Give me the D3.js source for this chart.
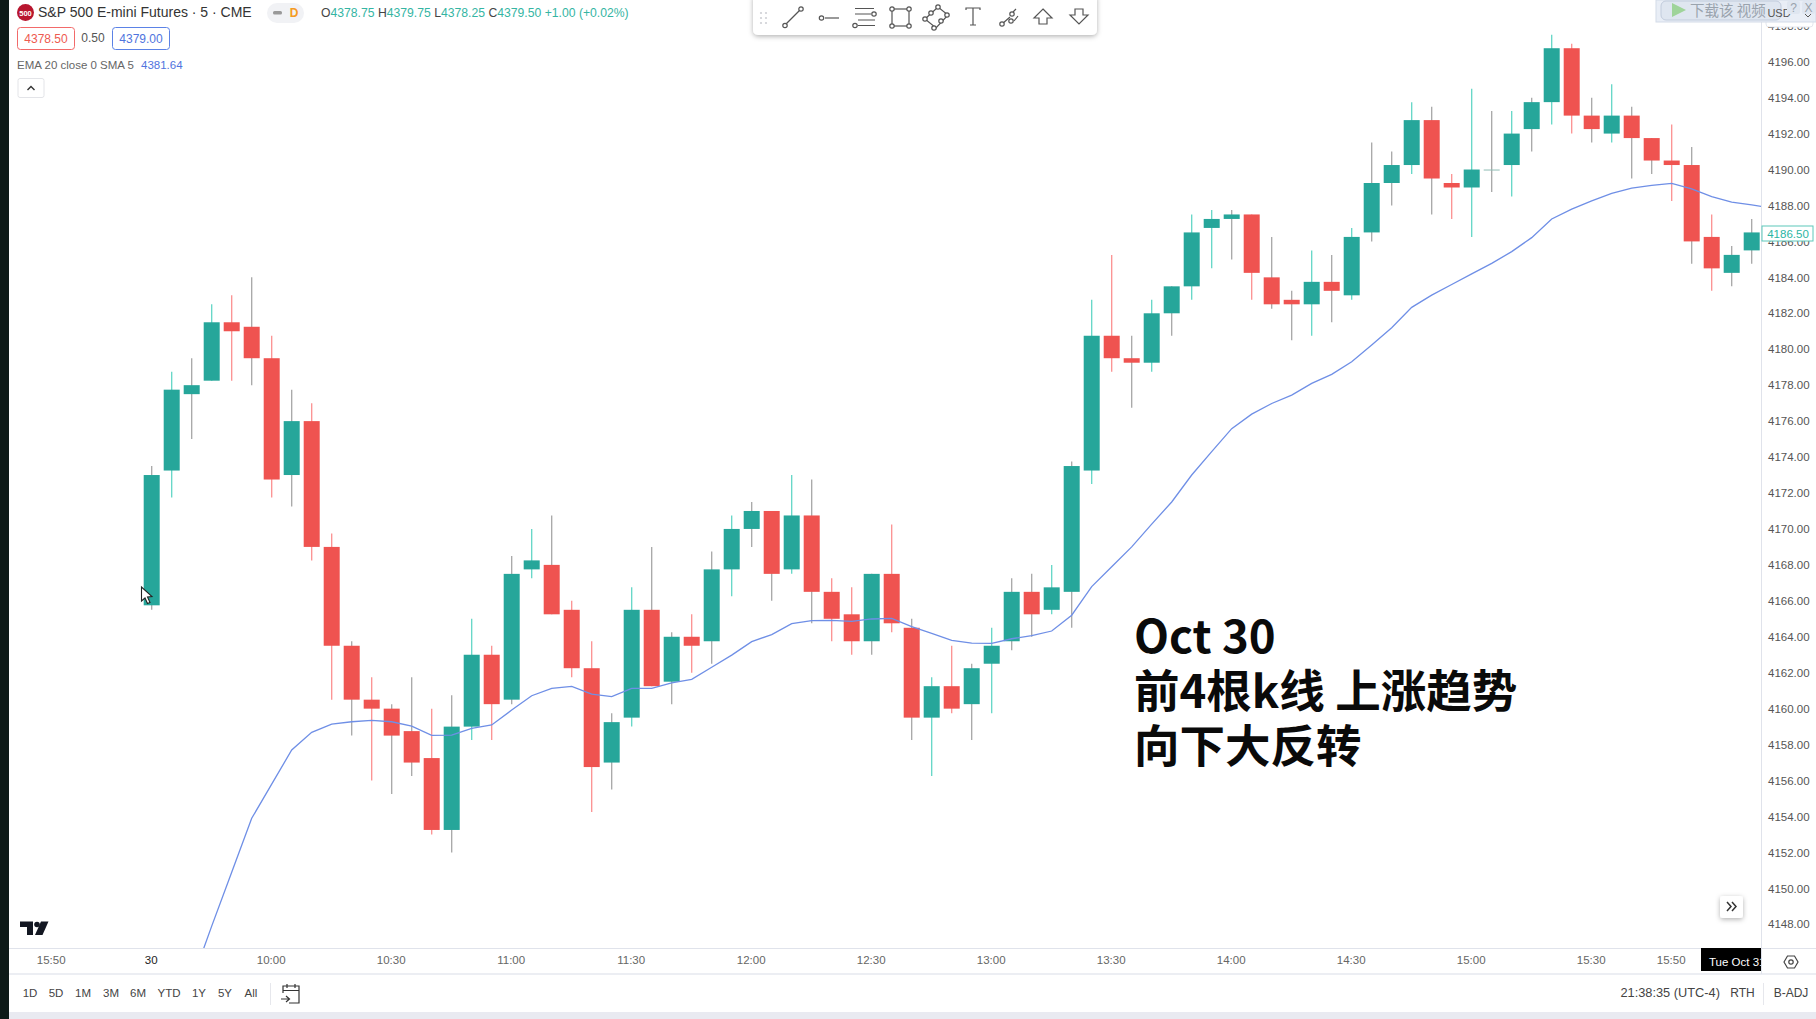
<!DOCTYPE html>
<html><head><meta charset="utf-8">
<script src="https://cdn.jsdelivr.net/npm/d3@7"></script>
<style>
html,body{margin:0;padding:0;background:#fff;overflow:hidden}
svg{display:block}
text{font-family:"Liberation Sans",Arial,sans-serif}
.axis path,.axis line{display:none}
</style></head><body><svg id="c" width="1816" height="1019"></svg>
<script>
const opens=[4165.75,4173.25,4177.5,4178.25,4181.5,4181.25,4179.5,4173,4176,4169,4163.5,4160.5,4160,4158.75,4157.25,4153.25,4159,4163,4160.5,4167.75,4168,4165.5,4162.25,4157,4159.5,4165.5,4161.5,4164,4163.75,4167.75,4170,4171,4167.75,4170.75,4166.5,4165.25,4163.75,4167.5,4164.5,4159.5,4161.25,4160.25,4162.5,4163.75,4166.5,4165.5,4166.5,4173.25,4180.75,4179.5,4179.25,4182,4183.5,4186.75,4187.25,4187.5,4184,4182.75,4182.5,4183.75,4183,4186.5,4189.25,4190.25,4192.75,4189.25,4189,4190,4190.25,4192.25,4193.75,4196.75,4193,4192,4193,4191.75,4190.5,4190.25,4186.25,4184.25,4185.5];
const highs=[4173.5,4178.75,4179.5,4182.5,4183,4184,4180.75,4177.75,4177,4169.75,4163.75,4161.75,4160.25,4161.75,4160,4160.75,4165,4163.5,4168.5,4170,4170.75,4166,4163.75,4159.75,4166.75,4169,4164.25,4165.25,4168.75,4170.75,4171.5,4171,4173,4172.75,4167.25,4166.75,4167.5,4170.25,4165,4161.75,4163.5,4162.5,4164.5,4167.25,4167.5,4168,4173.75,4182.75,4185.25,4180.75,4182.75,4183.5,4187.5,4187.75,4187.75,4187.5,4186.25,4183.25,4185.5,4185.25,4186.75,4191.5,4191,4193.75,4193.5,4189.75,4194.5,4193.25,4193.25,4194,4197.5,4197,4194,4194.75,4193.5,4191.75,4192.5,4191.25,4187.5,4185.75,4187.25];
const lows=[4165.5,4171.75,4175,4178.25,4178.25,4178,4171.75,4171.25,4168.25,4160.5,4158.5,4156,4155.25,4156.25,4153,4152,4158.25,4158.25,4160.25,4167.25,4165.25,4161.75,4154.25,4155.5,4159,4161.25,4160.25,4162,4162.5,4166.25,4169,4166,4167.5,4164.75,4163.75,4163,4163,4164.25,4158.25,4156.25,4159.75,4158.25,4159.75,4163.25,4164,4165.25,4164.5,4172.5,4178.75,4176.75,4178.75,4180.75,4182.75,4184.5,4185,4182.75,4182.25,4180.5,4180.75,4181.5,4182.75,4186,4188,4189.75,4187.5,4187.25,4186.25,4188.75,4188.5,4191,4192.5,4192,4191.5,4191.5,4189.5,4189.75,4188.25,4184.75,4183.25,4183.5,4184.75];
const closes=[4173,4177.75,4178,4181.5,4181,4179.5,4172.75,4176,4169,4163.5,4160.5,4160,4158.5,4157,4153.25,4159,4163,4160.25,4167.5,4168.25,4165.25,4162.25,4156.75,4159.25,4165.5,4161.25,4164,4163.5,4167.75,4170,4171,4167.5,4170.75,4166.5,4165,4163.75,4167.5,4164.75,4159.5,4161.25,4160,4162.25,4163.5,4166.5,4165.25,4166.75,4173.5,4180.75,4179.5,4179.25,4182,4183.5,4186.5,4187.25,4187.5,4184.25,4182.5,4182.5,4183.75,4183.25,4186.25,4189.25,4190.25,4192.75,4189.5,4189,4190,4190,4192,4193.75,4196.75,4193,4192.25,4193,4191.75,4190.5,4190.25,4186,4184.5,4185.25,4186.5];
// EMA 20 values starting at bar 2 (bar 81 is the bar just past the right edge)
const emaStart=2;
const emaValues=[4144.8,4147.9,4150.9,4153.9,4155.8,4157.7,4158.68,4159.14,4159.27,4159.35,4159.27,4159.03,4158.51,4158.53,4158.9,4159.09,4159.92,4160.72,4161.13,4161.24,4160.81,4160.67,4161.13,4161.13,4161.44,4161.63,4162.3,4162.98,4163.73,4164.12,4164.73,4164.9,4164.91,4164.86,4164.99,4165.02,4164.56,4164.19,4163.8,4163.65,4163.63,4163.89,4164.06,4164.32,4165.2,4166.79,4167.9,4169.0,4170.27,4171.5,4173.0,4174.3,4175.58,4176.39,4176.98,4177.45,4178.1,4178.6,4179.3,4180.23,4181.2,4182.33,4183.01,4183.6,4184.19,4184.78,4185.43,4186.21,4187.25,4187.8,4188.25,4188.67,4188.97,4189.12,4189.23,4188.92,4188.49,4188.19,4188.03,4187.85];
const priceTicks=[4148,4150,4152,4154,4156,4158,4160,4162,4164,4166,4168,4170,4172,4174,4176,4178,4180,4182,4184,4186,4188,4190,4192,4194,4196,4198];
const timeBars=[-5,0,6,12,18,24,30,36,42,48,54,60,66,72,76];
const timeLabels=["15:50","30","10:00","10:30","11:00","11:30","12:00","12:30","13:00","13:30","14:00","14:30","15:00","15:30","15:50"];
const rangeLabels=["1D","5D","1M","3M","6M","YTD","1Y","5Y","All"];
const noteLines=["Oct 30","前4根k线 上涨趋势","向下大反转"];
const lastPrice=4186.5;
// bars whose thin wick appears grey in the video capture
const greyWicks=[0,2,5,7,10,12,13,15,18,20,23,25,26,28,30,31,33,36,38,41,43,44,46,49,51,54,56,57,59,61,62,64,67,69,72,74,75,77,79,80];

const bars=opens.map((o,i)=>({i,o,h:highs[i],l:lows[i],c:closes[i]}));
const W=1816,H=1019,plotL=9,plotR=1761,plotB=948;
const x=d3.scaleLinear().domain([0,80]).range([151.7,1751.7]);
const y=d3.scaleLinear().domain([4148,4196]).range([924.3,61.7]);
const UP="#26a69a",DOWN="#ef5350",BW=16;
const svg=d3.select("#c");
const defs=svg.append("defs");
defs.append("clipPath").attr("id","plot").append("rect").attr("x",plotL).attr("y",0).attr("width",plotR-plotL).attr("height",plotB);
defs.append("clipPath").attr("id","dateclip").append("rect").attr("x",1701).attr("y",948).attr("width",60).attr("height",23);
const sh=defs.append("filter").attr("id","shadow").attr("x","-20%").attr("y","-40%").attr("width","140%").attr("height","200%");
sh.append("feDropShadow").attr("dx",0).attr("dy",1.5).attr("stdDeviation",2.5).attr("flood-color","#000").attr("flood-opacity",.3);

svg.append("rect").attr("width",W).attr("height",H).attr("fill","#fff");

// axes
const yAxis=d3.axisRight(y).tickValues(priceTicks).tickFormat(d3.format(".2f")).tickSize(0).tickPadding(0);
svg.append("g").attr("class","axis").attr("transform","translate(1768,0)").call(yAxis)
  .selectAll("text").attr("fill","#555").attr("font-size",11.5).attr("x",0);
const xAxis=d3.axisBottom(x).tickValues(timeBars).tickFormat((d,i)=>timeLabels[i]).tickSize(0).tickPadding(0);
svg.append("g").attr("class","axis").attr("transform","translate(-1,956)").call(xAxis)
  .selectAll("text").attr("fill",d=>d===0?"#222":"#666").attr("font-size",11.5);

// frame lines
const line=(x1,y1,x2,y2,c="#e0e3eb",w=1)=>svg.append("line").attr("x1",x1).attr("y1",y1).attr("x2",x2).attr("y2",y2).attr("stroke",c).attr("stroke-width",w);
line(plotL,948.5,W,948.5);
line(plotL,974,W,974,"#eceef3",2);
line(1761.5,0,1761.5,974);
svg.append("rect").attr("x",0).attr("y",1012).attr("width",W).attr("height",7).attr("fill","#e9eaf1");

// candles
const plot=svg.append("g").attr("clip-path","url(#plot)");
const wickColor=d=>greyWicks.includes(d.i)?"#a6a6a6":(d.c>=d.o?"#62d6c6":"#fb9090");
plot.selectAll("line.wick").data(bars).join("line").attr("class","wick")
  .attr("x1",d=>x(d.i)).attr("x2",d=>x(d.i)).attr("y1",d=>y(d.h)).attr("y2",d=>y(d.l))
  .attr("stroke",wickColor).attr("stroke-width",1.3);
plot.selectAll("rect.body").data(bars).join("rect").attr("class","body")
  .attr("x",d=>x(d.i)-BW/2).attr("width",BW)
  .attr("y",d=>y(Math.max(d.o,d.c)))
  .attr("height",d=>Math.max(1,Math.abs(y(d.o)-y(d.c))))
  .attr("fill",d=>d.o===d.c?"#8fbdb5":(d.c>d.o?UP:DOWN));

// EMA
const ema=d3.line().x((d,i)=>x(i+emaStart)).y(d=>y(d));
plot.append("path").datum(emaValues).attr("d",ema).attr("fill","none").attr("stroke","#6f8fe6").attr("stroke-width",1.3);

// cursor
svg.append("path").attr("d","M141.5 587 L141.5 601 L145 598 L147.5 603.5 L150 602.5 L147.5 597 L152 596.5 Z").attr("fill","#fff").attr("stroke","#222").attr("stroke-width",1.1);

// annotation
const note=svg.append("g").attr("font-weight",700).attr("fill","#0a0a0a").attr("font-size",45.5);
note.selectAll("text").data(noteLines).join("text").attr("x",1134).attr("y",(d,i)=>653+i*55)
  .style("font-family",'"Noto Sans CJK SC","Noto Sans",sans-serif').text(d=>d);

// header
svg.append("circle").attr("cx",25.5).attr("cy",12.5).attr("r",8.5).attr("fill","#b8162f");
svg.append("text").attr("x",25.5).attr("y",15.5).attr("text-anchor","middle").attr("fill","#fff").attr("font-size",7.5).attr("font-weight",700).text("500");
svg.append("text").attr("x",38).attr("y",17).attr("fill","#333").attr("font-size",14).text("S&P 500 E-mini Futures · 5 · CME");
svg.append("rect").attr("x",267).attr("y",3).attr("width",37).attr("height",20).attr("rx",10).attr("fill","#f1f2f5");
svg.append("rect").attr("x",273).attr("y",11).attr("width",9).attr("height",3.5).attr("rx",1.5).attr("fill","#999");
svg.append("text").attr("x",294).attr("y",17).attr("text-anchor","middle").attr("fill","#f59a23").attr("font-size",12).attr("font-weight",600).text("D");
const ohlc=svg.append("text").attr("x",321).attr("y",17).attr("font-size",12.2);
[["O","#444"],["4378.75","#35b5a3"],[" H","#444"],["4379.75","#35b5a3"],[" L","#444"],["4378.25","#35b5a3"],[" C","#444"],["4379.50","#35b5a3"],[" +1.00 (+0.02%)","#35b5a3"]]
  .forEach(([t,c])=>ohlc.append("tspan").attr("fill",c).style("white-space","pre").text(t));
svg.append("rect").attr("x",17.5).attr("y",27.5).attr("width",57).attr("height",22).attr("rx",3).attr("fill","#fff").attr("stroke","#f26a6a");
svg.append("text").attr("x",46).attr("y",43).attr("text-anchor","middle").attr("fill","#ee5a50").attr("font-size",12).text("4378.50");
svg.append("text").attr("x",93).attr("y",42).attr("text-anchor","middle").attr("fill","#555").attr("font-size",12).text("0.50");
svg.append("rect").attr("x",112.5).attr("y",27.5).attr("width",57).attr("height",22).attr("rx",3).attr("fill","#fff").attr("stroke","#5b82e6");
svg.append("text").attr("x",141).attr("y",43).attr("text-anchor","middle").attr("fill","#4f74de").attr("font-size",12).text("4379.00");
svg.append("text").attr("x",17).attr("y",69).attr("fill","#666").attr("font-size",11.5).text("EMA 20 close 0 SMA 5");
svg.append("text").attr("x",141).attr("y",69).attr("fill","#4f74de").attr("font-size",11.5).text("4381.64");
svg.append("rect").attr("x",18).attr("y",78.5).attr("width",26).attr("height",19).attr("rx",2).attr("fill","#fff").attr("stroke","#e3e4e8");
svg.append("path").attr("d","M27.5 90 L31 86.5 L34.5 90").attr("fill","none").attr("stroke","#333").attr("stroke-width",1.4);

// drawing toolbar
svg.append("rect").attr("x",753).attr("y",-6).attr("width",344).attr("height",41).attr("rx",5).attr("fill","#fff").attr("filter","url(#shadow)");
const tb=svg.append("g").attr("fill","none").attr("stroke","#555").attr("stroke-width",1.2);
const knob=(cx,cy)=>tb.append("circle").attr("cx",cx).attr("cy",cy).attr("r",2.2).attr("fill","#fff");
const tp=d=>tb.append("path").attr("d",d);
d3.range(2).forEach(a=>d3.range(3).forEach(b=>svg.append("circle").attr("cx",761+a*5).attr("cy",13+b*5).attr("r",1.1).attr("fill","#cfd0d5")));
tp("M785 25 L801 9");knob(785,25.5);knob(801,9);
tp("M825 18 L839 18");knob(821.5,18);
tp("M855 8.5 L874 8.5 M855 14 L871 14 M858 20 L875 20 M858 25.5 L875 25.5");knob(874,14);knob(855,25.5);
tb.append("rect").attr("x",892).attr("y",9).attr("width",17).attr("height",17);[[892,9],[909,9],[892,26],[909,26]].forEach(p=>knob(p[0],p[1]));
tp("M925 19 L938 7 L948 15 L936 28 Z");[[925,19],[931,13],[938,7],[947,15],[941,21],[934,28]].forEach(p=>knob(p[0],p[1]));
tp("M966 10 L966 8 L980 8 L980 10 M973 8 L973 25 M970 25 L976 25");
tp("M1002 24 L1010 17 M1013 12 L1016 9 M1014 21 L1018 16");knob(1002,24);knob(1012,14);knob(1011,21);
tp("M1043 9 L1052 18 L1047 18 L1047 24 L1039 24 L1039 18 L1034 18 Z");
tp("M1075 9 L1083 9 L1083 15 L1088 15 L1079 24 L1070 15 L1075 15 Z");

// TradingView logo
const tv=svg.append("g").attr("fill","#131722");
tv.append("path").attr("d","M20 921.5 H33 V935 H27 V927 H20 Z");
tv.append("circle").attr("cx",37).attr("cy",924.5).attr("r",2.8);
tv.append("path").attr("d","M41 921.5 H48.5 L42.5 935 H35 Z");

// bottom bar
const rangeXpos=[30,56,83,111,138,169,199,225,251];
svg.append("g").selectAll("text").data(rangeLabels).join("text")
  .attr("x",(d,i)=>rangeXpos[i]).attr("y",997).attr("text-anchor","middle").attr("fill","#444").attr("font-size",11.5).text(d=>d);
line(270.5,983,270.5,1005,"#e6e7ec");
const cal=svg.append("g").attr("fill","none").attr("stroke","#333").attr("stroke-width",1.2).attr("transform","translate(-2,-1)");
cal.append("path").attr("d","M285 994 V987 H301 V1004 H291 M285 991.5 H301 M289 985 V989 M297 985 V989 M283 1000 H291 M288 997 L291.5 1000 L288 1003");
svg.append("text").attr("x",1720).attr("y",997).attr("text-anchor","end").attr("fill","#444").attr("font-size",12.8).text("21:38:35 (UTC-4)");
svg.append("text").attr("x",1742.5).attr("y",997).attr("text-anchor","middle").attr("fill","#444").attr("font-size",12).text("RTH");
line(1763.5,983,1763.5,1005,"#e6e7ec");
svg.append("text").attr("x",1791).attr("y",997).attr("text-anchor","middle").attr("fill","#444").attr("font-size",12).text("B-ADJ");

// date tag & gear
svg.append("rect").attr("x",1701).attr("y",948).attr("width",60).attr("height",23).attr("fill","#000");
svg.append("text").attr("x",1709).attr("y",966).attr("fill","#fff").attr("font-size",11.5).attr("clip-path","url(#dateclip)").text("Tue Oct 31");
svg.append("path").attr("d","M1784 962 L1787.5 956 H1794.5 L1798 962 L1794.5 968 H1787.5 Z").attr("fill","none").attr("stroke","#444").attr("stroke-width",1.2);
svg.append("circle").attr("cx",1791).attr("cy",962).attr("r",2.2).attr("fill","none").attr("stroke","#444").attr("stroke-width",1.2);

// scroll button
svg.append("rect").attr("x",1720).attr("y",896).attr("width",23).attr("height",22).attr("rx",3).attr("fill","#fff").attr("filter","url(#shadow)");
svg.append("path").attr("d","M1727 902 L1731 906.5 L1727 911 M1732 902 L1736 906.5 L1732 911").attr("fill","none").attr("stroke","#333").attr("stroke-width",1.5);

// left strip
svg.append("rect").attr("x",0).attr("y",0).attr("width",9).attr("height",H).attr("fill","#0e1a18");

// video overlay bar
svg.append("rect").attr("x",1766).attr("y",4).attr("width",47).attr("height",23).attr("rx",3).attr("fill","#fff").attr("stroke","#e4e7ee");
svg.append("rect").attr("x",1656).attr("y",0).attr("width",160).attr("height",22).attr("fill","#e7edf5").attr("fill-opacity",.92).attr("stroke","#d3dbe8");
svg.append("rect").attr("x",1661).attr("y",1).attr("width",120).attr("height",19).attr("rx",5).attr("fill","#dfe6f0").attr("stroke","#c2ccdc");
svg.append("path").attr("d","M1672 3 L1686 10 L1672 17 Z").attr("fill","#9fd49a");
svg.append("text").attr("x",1690).attr("y",15.5).attr("fill","#9aa3ad").attr("font-size",14.5).style("font-family",'"Noto Sans CJK SC",sans-serif').text("下载该 视频");
svg.append("text").attr("x",1779).attr("y",17).attr("text-anchor","middle").attr("fill","#555").attr("font-size",11).text("USD");
svg.append("rect").attr("x",1787).attr("y",1).attr("width",13).attr("height",13).attr("rx",2).attr("fill","#dfe6f0");
svg.append("text").attr("x",1793.5).attr("y",12).attr("text-anchor","middle").attr("fill","#9aa3ad").attr("font-size",12).text("?");
svg.append("rect").attr("x",1802).attr("y",1).attr("width",13).attr("height",13).attr("rx",2).attr("fill","#dfe6f0");
svg.append("text").attr("x",1808.5).attr("y",12).attr("text-anchor","middle").attr("fill","#9aa3ad").attr("font-size",12).text("X");
svg.append("path").attr("d","M1805 14 L1808 17 L1811 14").attr("fill","none").attr("stroke","#555").attr("stroke-width",1);

// last price tag
svg.append("rect").attr("x",1762).attr("y",226).attr("width",51).attr("height",15).attr("fill","#fff").attr("stroke","#5cc8ba").attr("stroke-width",1);
svg.append("text").attr("x",1788).attr("y",237.5).attr("text-anchor","middle").attr("fill","#2bb5a3").attr("font-size",11.5).text(d3.format(".2f")(lastPrice));
</script></body></html>
